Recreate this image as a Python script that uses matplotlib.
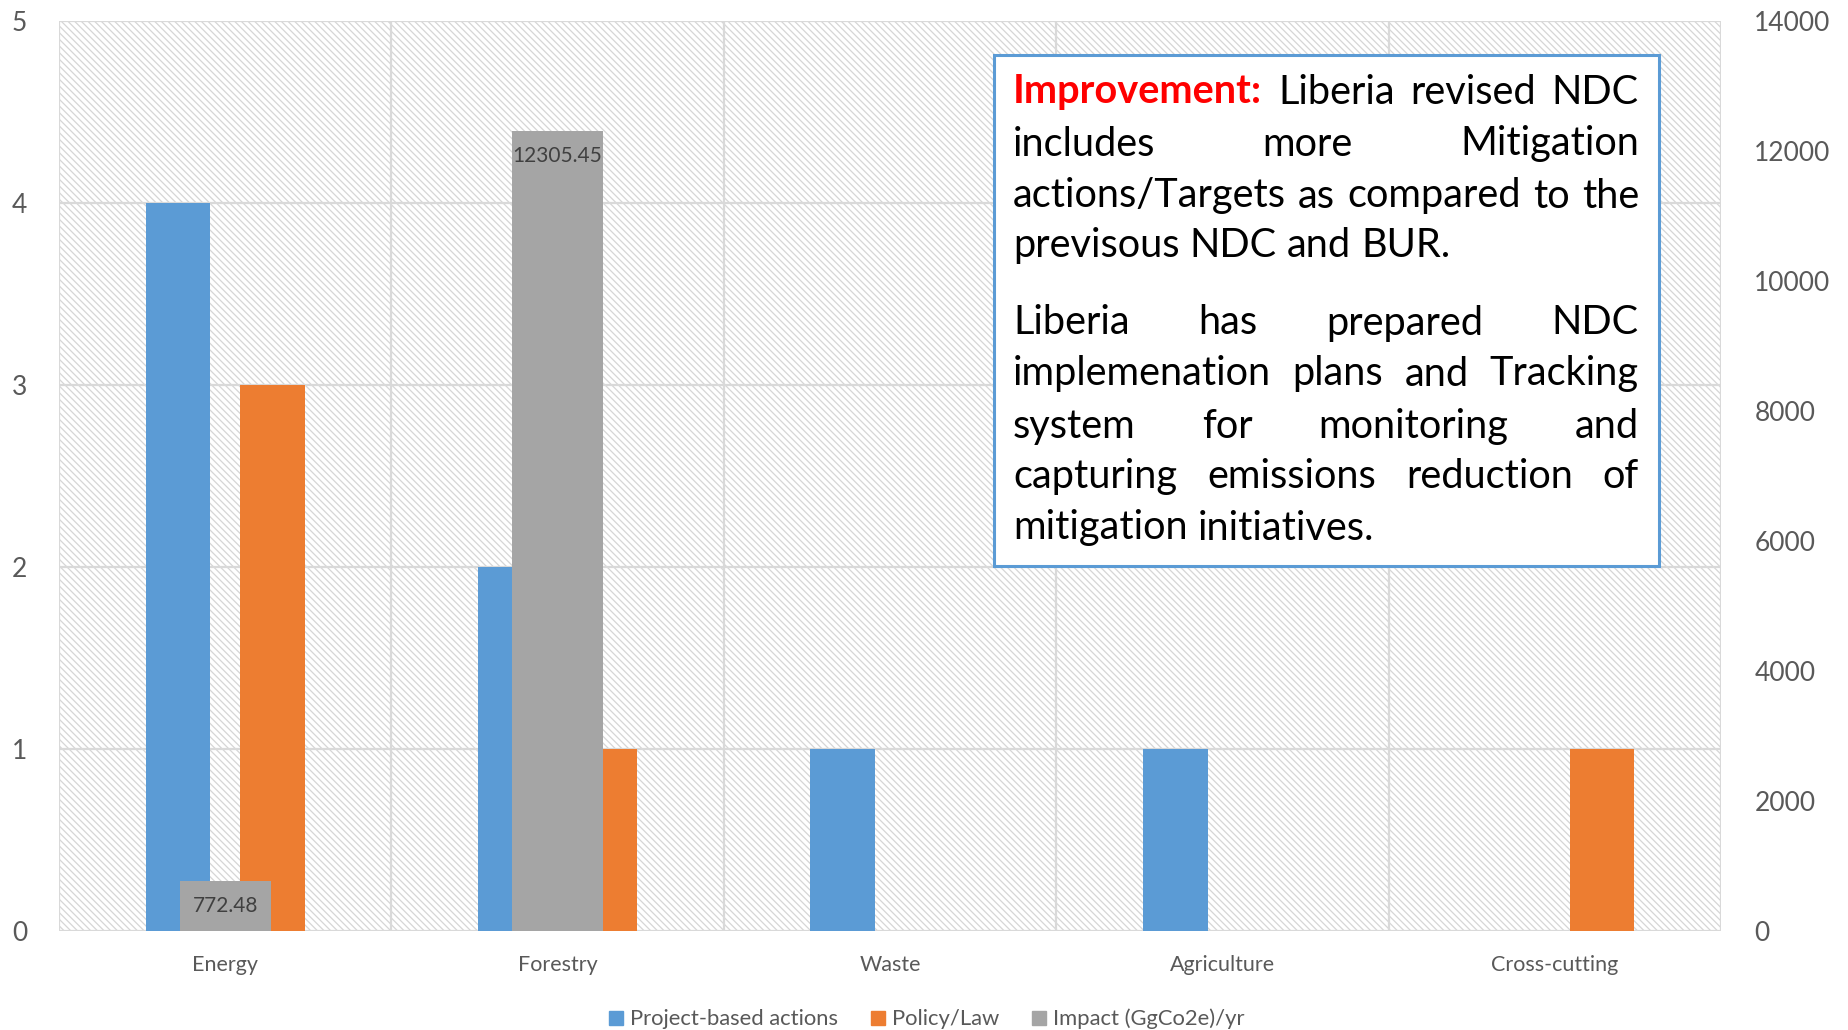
import numpy as np
import matplotlib.pyplot as plt
from matplotlib.patches import Rectangle
from matplotlib.lines import Line2D

plt.rcParams['font.family'] = ['Lato', 'DejaVu Sans']
plt.rcParams['hatch.color'] = '#d6d6d6'
plt.rcParams['hatch.linewidth'] = 0.9

categories = ['Energy', 'Forestry', 'Waste', 'Agriculture', 'Cross-cutting']
project = [4, 2, 1, 1, 0]   # Project-based actions
policy = [3, 1, 0, 0, 1]    # Policy/Law
impact = [772.48, 12305.45, 0, 0, 0]  # Impact (GgCo2e)/yr, right axis
left_ticks = [0, 1, 2, 3, 4, 5]
right_ticks = [0, 2000, 4000, 6000, 8000, 10000, 12000, 14000]

blue = '#5b9bd5'
orange = '#ed7d31'
gray = '#a5a5a5'
tcol = '#595959'
grid = '#d9d9d9'

W, H = 1849, 1030
fig = plt.figure(figsize=(W / 100, H / 100), dpi=100)
ax = fig.add_axes([59 / W, 99 / H, (1721 - 59) / W, (1009 - 99) / H])

x = np.arange(len(categories))
ax.set_xlim(-0.5, len(categories) - 0.5)
ax.set_ylim(0, 5)

# hatched plot area
ax.patch.set_visible(False)
bg = Rectangle((0, 0), 1, 1, transform=ax.transAxes, facecolor='white',
               edgecolor='#d6d6d6', hatch='\\\\\\\\\\', linewidth=0, zorder=0)
ax.add_patch(bg)

for yv in left_ticks:
    ax.axhline(yv, color=grid, lw=1.6, zorder=1)
for xv in np.arange(-0.5, len(categories), 1.0):
    ax.axvline(xv, color=grid, lw=1.6, zorder=1)

ax.bar(x - 0.142, project, width=0.195, color=blue, zorder=2)
ax.bar(x + 0.142, policy, width=0.195, color=orange, zorder=2)

for s in ax.spines.values():
    s.set_visible(False)
ax.set_yticks(left_ticks)
ax.set_xticks(x)
ax.set_xticklabels(categories)
ax.tick_params(axis='y', length=0, pad=23, labelsize=19, labelcolor=tcol)
ax.tick_params(axis='x', length=0, pad=17, labelsize=15.5, labelcolor=tcol)

ax2 = ax.twinx()
ax2.set_ylim(0, 14000)
ax2.set_yticks(right_ticks)
ax2.tick_params(axis='y', length=0, pad=24, labelsize=19, labelcolor=tcol)
for s in ax2.spines.values():
    s.set_visible(False)
for xi, v in zip(x, impact):
    if v > 0:
        ax2.bar(xi, v, width=0.273, color=gray, zorder=3)
        ax2.annotate(f'{v:.2f}', (xi, v), xytext=(0, -18), textcoords='offset points',
                     ha='center', va='center', fontsize=15, color='#404040')

# legend
handles = [Line2D([], [], marker='s', ls='', color=c, markersize=9.5) for c in (blue, orange, gray)]
fig.legend(handles, ['Project-based actions', 'Policy/Law', 'Impact (GgCo2e)/yr'],
           loc='center', bbox_to_anchor=(0.501, 11 / H), ncol=3, frameon=False,
           fontsize=15.8, labelcolor=tcol, handlelength=0.7, handletextpad=0.3,
           columnspacing=1.45, borderpad=0)

# text box
fig.add_artist(Rectangle((994 / W, (H - 566) / H), (1659 - 994) / W, (566 - 55) / H,
                         transform=fig.transFigure, facecolor='white',
                         edgecolor=blue, lw=2.2, zorder=5))

lines = [
    ([('Improvement:', 'red')] + [(w, 'k') for w in 'Liberia revised NDC'.split()], True),
    ([(w, 'k') for w in 'includes more Mitigation'.split()], True),
    ([(w, 'k') for w in 'actions/Targets as compared to the'.split()], True),
    ([(w, 'k') for w in 'previsous NDC and BUR.'.split()], False),
    ([(w, 'k') for w in 'Liberia has prepared NDC'.split()], True),
    ([(w, 'k') for w in 'implemenation plans and Tracking'.split()], True),
    ([(w, 'k') for w in 'system for monitoring and'.split()], True),
    ([(w, 'k') for w in 'capturing emissions reduction of'.split()], True),
    ([(w, 'k') for w in 'mitigation initiatives.'.split()], False),
]
line_y = [92, 144, 196, 246, 323, 374, 426, 476, 528]
x0, x1 = 1013, 1639
renderer = fig.canvas.get_renderer()

# size the font so the tightest line just fills the box width
probe = fig.text(0, 0, 'actions/Targets as compared to the', fontsize=20)
fs = 20 * (x1 - x0) / probe.get_window_extent(renderer).width * 0.99
probe.remove()
sp_probe = fig.text(0, 0, 'a a', fontsize=fs)
a_probe = fig.text(0, 0, 'aa', fontsize=fs)
space = sp_probe.get_window_extent(renderer).width - a_probe.get_window_extent(renderer).width
sp_probe.remove()
a_probe.remove()

for (words, justify), yc in zip(lines, line_y):
    objs = []
    for w, st in words:
        t = fig.text(0, 1 - yc / H, w, fontsize=fs, va='center', ha='left', zorder=6,
                     color='#ff0000' if st == 'red' else 'black',
                     fontweight='bold' if st == 'red' else 'normal')
        objs.append(t)
    widths = [t.get_window_extent(renderer).width for t in objs]
    if justify and len(objs) > 1:
        gap = (x1 - x0 - sum(widths)) / (len(objs) - 1)
    else:
        gap = space
    pos = x0
    for t, wd in zip(objs, widths):
        t.set_x(pos / W)
        pos += wd + gap

fig.savefig('out.png', dpi=100)
